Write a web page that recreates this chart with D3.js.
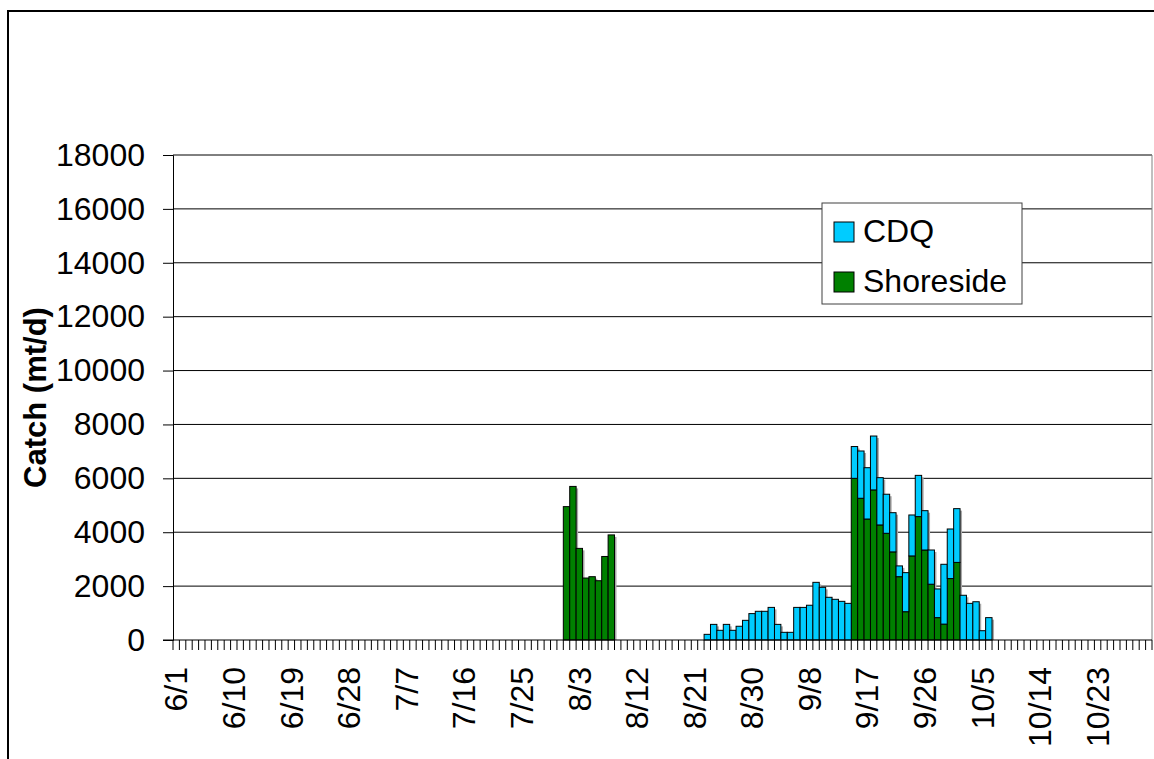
<!DOCTYPE html>
<html>
<head>
<meta charset="utf-8">
<script src="https://cdn.jsdelivr.net/npm/d3@7"></script>
<style>
  html, body { margin: 0; padding: 0; background: #fff; }
  svg { display: block; font-family: "Liberation Sans", Arial, sans-serif; }
</style>
</head>
<body>
<svg id="chart" width="1154" height="759"></svg>
<script>
// ---- data ----
const seasonStart = "2000-06-01";
const seasonEnd = "2000-11-01"; // exclusive: categories 6/1 .. 10/31
const tickLabels = ["6/1","6/10","6/19","6/28","7/7","7/16","7/25","8/3","8/12","8/21","8/30","9/8","9/17","9/26","10/5","10/14","10/23"];
const yTicks = [0,2000,4000,6000,8000,10000,12000,14000,16000,18000];
const seriesNames = ["CDQ","Shoreside"];
const seriesColors = ["#00CCFF","#008000"];

const shoresideDays = ["8/1","8/2","8/3","8/4","8/5","8/6","8/7","8/8",
  "9/15","9/16","9/17","9/18","9/19","9/20","9/21","9/22","9/23","9/24","9/25","9/26","9/27","9/28","9/29","9/30","10/1"];
const shoresideValues = [4950,5700,3400,2300,2350,2200,3100,3900,
  6000,5260,4490,5570,4270,3960,3270,2350,1050,3120,4580,3340,2070,830,590,2280,2880];

const cdqDays = ["8/23","8/24","8/25","8/26","8/27","8/28","8/29","8/30","8/31","9/1","9/2","9/3","9/4","9/5","9/6","9/7","9/8","9/9","9/10","9/11","9/12","9/13","9/14",
  "9/15","9/16","9/17","9/18","9/19","9/20","9/21","9/22","9/23","9/24","9/25","9/26","9/27","9/28","9/29","9/30","10/1",
  "10/2","10/3","10/4","10/5","10/6"];
const cdqValues = [210,580,360,580,360,510,730,980,1065,1065,1210,580,285,285,1210,1210,1290,2140,1955,1585,1510,1435,1360,
  1180,1755,1905,2000,1755,1450,1455,400,1450,1520,1530,1460,1270,1065,2220,1840,1995,
  1660,1360,1420,345,830];

// ---- build table ----
const fmt = d3.timeFormat("%-m/%-d");
const categories = d3.timeDay.range(new Date(seasonStart + "T00:00:00"), new Date(seasonEnd + "T00:00:00")).map(fmt);
const shoreMap = new Map(shoresideDays.map((d,i) => [d, shoresideValues[i]]));
const cdqMap = new Map(cdqDays.map((d,i) => [d, cdqValues[i]]));
const table = categories.map(c => ({ cat: c, Shoreside: shoreMap.get(c) || 0, CDQ: cdqMap.get(c) || 0 }));

// ---- layout ----
const svg = d3.select("#chart");
const L = 173, R = 1152, T = 155, B = 640;

const x = d3.scaleBand().domain(categories).range([L, R]).padding(0);
const y = d3.scaleLinear().domain([0, 18000]).range([B, T]);

// outer chart border
svg.append("rect").attr("x", 8).attr("y", 11).attr("width", 1160).attr("height", 770)
  .attr("fill", "none").attr("stroke", "#000").attr("stroke-width", 2);

// gridlines
svg.append("g").selectAll("line").data(yTicks.filter(v => v > 0)).join("line")
  .attr("x1", L).attr("x2", R).attr("y1", d => y(d)).attr("y2", d => y(d))
  .attr("stroke", "#000").attr("stroke-width", 1);

// plot-area right edge
svg.append("line").attr("x1", R).attr("x2", R).attr("y1", T).attr("y2", B)
  .attr("stroke", "#808080").attr("stroke-width", 1);

// stacked bars
const stack = d3.stack().keys(["Shoreside","CDQ"]);
const layers = stack(table);
const colorOf = k => seriesColors[seriesNames.indexOf(k)];

// shadows
const shadowG = svg.append("g");
table.forEach(d => {
  const total = d.Shoreside + d.CDQ;
  if (total > 0) {
    shadowG.append("rect")
      .attr("x", x(d.cat) + 2).attr("y", y(total) + 2)
      .attr("width", x.bandwidth()).attr("height", B - y(total) - 2)
      .attr("fill", "#a8a8a8");
  }
});

svg.append("g").selectAll("g").data(layers).join("g")
  .attr("fill", d => colorOf(d.key))
  .selectAll("rect").data(d => d.filter(p => p[1] - p[0] > 0)).join("rect")
  .attr("x", d => x(d.data.cat))
  .attr("y", d => y(d[1]))
  .attr("width", x.bandwidth())
  .attr("height", d => y(d[0]) - y(d[1]))
  .attr("stroke", "#000").attr("stroke-width", 1);

// y axis
const yAxis = d3.axisLeft(y).tickValues(yTicks).tickSize(10).tickPadding(18).tickFormat(d3.format("d"));
const gy = svg.append("g").attr("transform", `translate(${L},0)`).call(yAxis);
gy.select(".domain").attr("stroke", "#000");
gy.selectAll(".tick line").attr("stroke", "#000");
gy.selectAll("text").attr("font-size", 32).attr("fill", "#000")
  .attr("font-family", "Liberation Sans, Arial, sans-serif");

// x axis baseline (extends left to tick length)
svg.append("line").attr("x1", L - 10).attr("x2", R).attr("y1", B).attr("y2", B)
  .attr("stroke", "#000").attr("stroke-width", 1);

// x day ticks at category boundaries
const bounds = categories.map(c => x(c)).concat([R]);
svg.append("g").selectAll("line").data(bounds).join("line")
  .attr("x1", d => d).attr("x2", d => d).attr("y1", B).attr("y2", B + 10)
  .attr("stroke", "#000").attr("stroke-width", 1);

// x tick labels
svg.append("g").selectAll("text").data(tickLabels).join("text")
  .attr("transform", d => `translate(${x(d) + x.bandwidth() / 2},${B + 27}) rotate(-90)`)
  .attr("text-anchor", "end").attr("dy", "0.35em")
  .attr("font-size", 32).attr("fill", "#000")
  .text(d => d);

// y axis title
svg.append("text")
  .attr("transform", `translate(35,${(T + B) / 2}) rotate(-90)`)
  .attr("text-anchor", "middle").attr("dy", "0.35em")
  .attr("font-size", 31).attr("font-weight", "bold").attr("fill", "#000")
  .text("Catch (mt/d)");

// legend
const lg = svg.append("g").attr("transform", "translate(822,203)");
lg.append("rect").attr("x", 0).attr("y", 0).attr("width", 200).attr("height", 101)
  .attr("fill", "#fff").attr("stroke", "#404040").attr("stroke-width", 1);
seriesNames.forEach((name, i) => {
  const yy = 19 + i * 50;
  lg.append("rect").attr("x", 12).attr("y", yy).attr("width", 20).attr("height", 20)
    .attr("fill", seriesColors[i]).attr("stroke", "#000").attr("stroke-width", 1);
  lg.append("text").attr("x", 41).attr("y", yy + 20)
    .attr("font-size", 32).attr("fill", "#000").text(name);
});
</script>
</body>
</html>
